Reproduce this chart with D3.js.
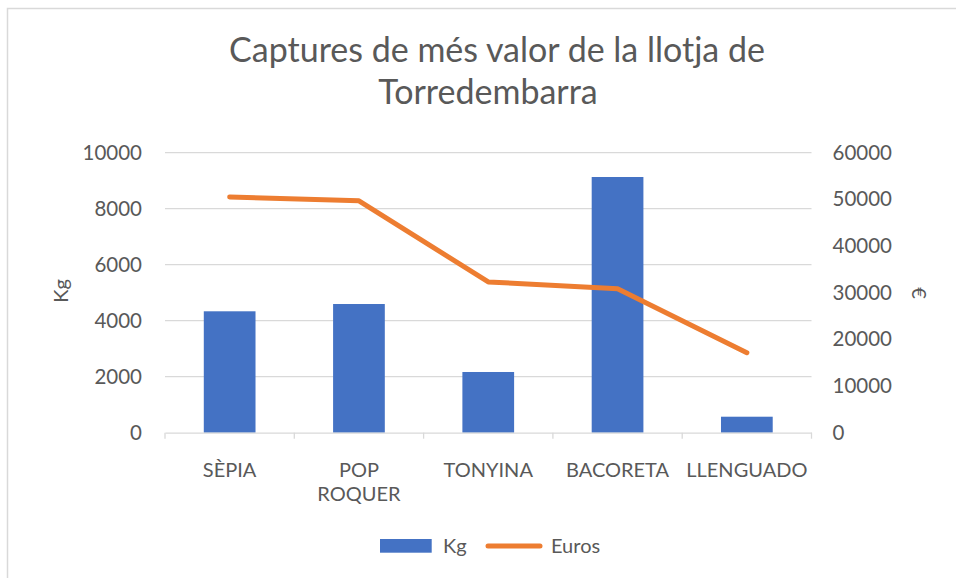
<!DOCTYPE html>
<html><head><meta charset="utf-8">
<script src="https://cdn.jsdelivr.net/npm/d3@7"></script>
<style>body{margin:0;background:#fff}svg{display:block}text{font-family:Lato,"Open Sans",sans-serif;fill:#595959}</style>
</head><body>
<svg id="c" width="956" height="578"></svg>
<script>
const categories = ["SÈPIA","POP ROQUER","TONYINA","BACORETA","LLENGUADO"];
const kg = [4336, 4596, 2168, 9132, 571];
const euros = [50500, 49700, 32300, 30850, 17150];
const leftTicks = [0,2000,4000,6000,8000,10000];
const rightTicks = [0,10000,20000,30000,40000,50000,60000];
const titleLines = ["Captures de més valor de la llotja de","Torredembarra"];
const seriesNames = ["Kg","Euros"];

const svg = d3.select("#c");
const W=956,H=578;
const blue="#4472c4", orange="#ed7d31", grid="#d9d9d9";
svg.append("rect").attr("x",7.5).attr("y",8.5).attr("width",W).attr("height",H).attr("fill","#fff").attr("stroke",grid).attr("stroke-width",1.5);

const x = d3.scaleBand().domain(categories).range([165,811.5]).padding(0);
const yL = d3.scaleLinear().domain([0,10000]).range([432.7,152.7]);
const yR = d3.scaleLinear().domain([0,60000]).range([432.7,152.7]);

// title
svg.append("text").attr("x",492).attr("y",62).attr("text-anchor","middle").style("font-size","34px")
  .selectAll("tspan").data(titleLines).join("tspan").attr("x",(d,i)=>i?488:497).attr("dy",(d,i)=>i?42:0).text(d=>d);

// gridlines
svg.append("g").selectAll("line").data(leftTicks.filter(d=>d>0)).join("line")
  .attr("x1",165).attr("x2",811.5).attr("y1",d=>yL(d)).attr("y2",d=>yL(d)).attr("stroke",grid).attr("stroke-width",1.3);

// left axis
const gl = svg.append("g").attr("transform","translate(165,0)").call(d3.axisLeft(yL).tickValues(leftTicks).tickSize(0).tickPadding(23).tickFormat(d3.format("d")));
gl.select(".domain").remove();
gl.selectAll("text").style("font-size","20.5px").style("font-family","Lato").attr("fill","#595959");

// right axis
const gr = svg.append("g").attr("transform","translate(811.5,0)").call(d3.axisRight(yR).tickValues(rightTicks).tickSize(0).tickPadding(21).tickFormat(d3.format("d")));
gr.select(".domain").remove();
gr.selectAll("text").style("font-size","20.5px").style("font-family","Lato").attr("fill","#595959");

// bars
svg.append("g").selectAll("rect").data(kg).join("rect")
  .attr("x",(d,i)=>x(categories[i])+x.bandwidth()*0.3).attr("width",x.bandwidth()*0.4)
  .attr("y",d=>yL(d)).attr("height",d=>yL(0)-yL(d)).attr("fill",blue);

// bottom axis
const gb = svg.append("g").attr("transform",`translate(0,${yL(0)})`).call(d3.axisBottom(x).tickSize(0).tickPadding(0));
gb.select(".domain").attr("stroke",grid).attr("stroke-width",1.3);
gb.selectAll(".tick").remove();
svg.append("g").selectAll("line").data(d3.range(categories.length+1)).join("line")
  .attr("x1",i=>165+i*x.step()).attr("x2",i=>165+i*x.step()).attr("y1",yL(0)).attr("y2",yL(0)+6).attr("stroke",grid).attr("stroke-width",1.3);

// category labels with wrap
const cl = svg.append("g").selectAll("text").data(categories).join("text")
  .attr("text-anchor","middle").attr("y",477).style("font-size","20px");
cl.each(function(d){
  const t=d3.select(this), cx=x(d)+x.bandwidth()/2;
  t.append("tspan").attr("x",cx).text(d);
  if(this.getComputedTextLength()>x.bandwidth()-6){
    t.text(null);
    d.split(" ").forEach((w,i)=>t.append("tspan").attr("x",cx).attr("dy",i?24:0).text(w));
  }
});

// line
const line = d3.line().x((d,i)=>x(categories[i])+x.bandwidth()/2).y(d=>yR(d));
svg.append("path").datum(euros).attr("d",line).attr("fill","none").attr("stroke",orange).attr("stroke-width",5).attr("stroke-linecap","round").attr("stroke-linejoin","round");

// axis titles
svg.append("text").attr("transform","translate(68,291) rotate(-90)").attr("text-anchor","middle").style("font-size","20px").text(seriesNames[0]);
svg.append("text").attr("transform","translate(912,293) rotate(90)").attr("text-anchor","middle").style("font-size","20px").text("€");

// legend
const lg = svg.append("g");
lg.append("rect").attr("x",380).attr("y",539).attr("width",51.7).attr("height",13.7).attr("fill",blue);
lg.append("text").attr("x",443).attr("y",553).style("font-size","20px").text(seriesNames[0]);
lg.append("line").attr("x1",488).attr("x2",540).attr("y1",546).attr("y2",546).attr("stroke",orange).attr("stroke-width",5).attr("stroke-linecap","round");
lg.append("text").attr("x",551).attr("y",553).style("font-size","20px").text(seriesNames[1]);
</script>
</body></html>
